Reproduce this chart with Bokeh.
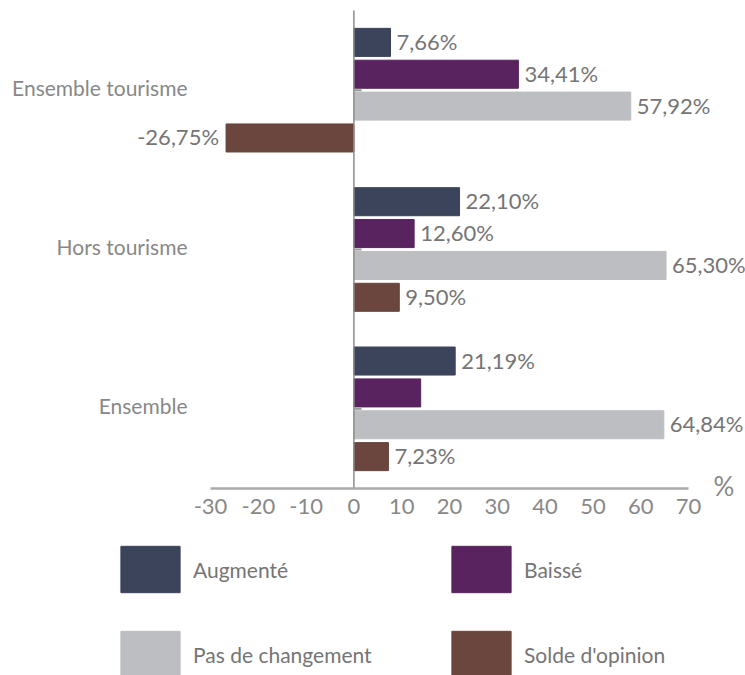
from bokeh.plotting import figure
from bokeh.models import (ColumnDataSource, Range1d, Label, LabelSet, Legend,
                          LegendItem, FixedTicker, PrintfTickFormatter)
from bokeh.transform import dodge
from bokeh.core.properties import value
from bokeh.embed import file_html
from bokeh.resources import INLINE

# ---- data ----
categories = ["Ensemble tourisme", "Hors tourisme", "Ensemble"]
series = ["Augmenté", "Baissé", "Pas de changement", "Solde d'opinion"]
augmente = [7.66, 22.10, 21.19]
baisse = [34.41, 12.60, 13.97]
pas_de_changement = [57.92, 65.30, 64.84]
solde_opinion = [-26.75, 9.50, 7.23]
label_shown = {
    "Augmenté": [True, True, True],
    "Baissé": [True, True, False],
    "Pas de changement": [True, True, True],
    "Solde d'opinion": [True, True, True],
}
colors = ["#3c445c", "#58235f", "#bdbec2", "#6a463e"]
x_ticks = [-30, -20, -10, 0, 10, 20, 30, 40, 50, 60, 70]
x_axis_bounds = (-30, 70)

FONT = "Lato"
TEXT = "#757575"
AXIS_TEXT = "#888888"

# ---- layout of the single frame (whole canvas) ----
W, H = 745, 675
PX_PER_UNIT = 478 / 100          # -30..70 over 478 px
x_start = x_axis_bounds[0] - 210 / PX_PER_UNIT
x_end = x_axis_bounds[1] + (W - 688) / PX_PER_UNIT
n = len(categories)
cat_pos = list(range(n - 1, -1, -1))   # top category highest
CAT_PX = 159.33
y_top = (n - 0.5) + 10 / CAT_PX
y_bottom = -0.5 - (H - 488) / CAT_PX

p = figure(width=W, height=H,
           x_range=Range1d(x_start, x_end),
           y_range=Range1d(y_bottom, y_top),
           output_backend="svg", toolbar_location=None,
           min_border_left=0, min_border_right=0,
           min_border_top=0, min_border_bottom=0)

src = ColumnDataSource(dict(cat=categories, pos=cat_pos, a=augmente, b=baisse,
                            c=pas_de_changement, d=solde_opinion))
cols = ["a", "b", "c", "d"]
values = [augmente, baisse, pas_de_changement, solde_opinion]
offsets = [0.3, 0.1, -0.1, -0.3]
bar_h = 0.176


def fmt(v):
    return f"{v:.2f}".replace(".", ",") + "%"


renderers = {}
for s, col, vals, off, color in zip(series, cols, values, offsets, colors):
    r = p.hbar(y=dodge("pos", off), left=0, right=col,
               height=bar_h, color=color, source=src)
    renderers[s] = r
    shown = label_shown[s]
    pos = dict(pos=[], val=[], txt=[])
    neg = dict(pos=[], val=[], txt=[])
    for cp, v, sh in zip(cat_pos, vals, shown):
        if not sh:
            continue
        d = pos if v >= 0 else neg
        d["pos"].append(cp)
        d["val"].append(v)
        d["txt"].append(fmt(v))
    for d, xo, al in ((pos, 6, "left"), (neg, -7, "right")):
        if not d["pos"]:
            continue
        p.add_layout(LabelSet(x="val", y=dodge("pos", off), text="txt",
                              source=ColumnDataSource(d), x_offset=xo,
                              y_offset=1,
                              text_align=al, text_baseline="middle",
                              text_font=value(FONT), text_font_size="22px",
                              text_color=TEXT))

# category labels (left of the axis start)
p.add_layout(LabelSet(x=x_axis_bounds[0], y="pos", text="cat", source=src,
                      x_offset=-23, y_offset=3, text_align="right",
                      text_baseline="middle",
                      text_font=value(FONT), text_font_size="21px",
                      text_color=AXIS_TEXT))

# zero line over the category area and small marks at category centres
p.segment(x0=0, x1=0, y0=-0.5, y1=n - 0.5, line_color="#8c8c8c",
          line_width=1.5)
p.segment(x0=0, x1=1.6, y0="pos", y1="pos", source=src,
          line_color="#9a9a9a", line_width=2)

# x axis fixed at the bottom of the category area
p.xaxis.fixed_location = -0.5
p.xaxis.ticker = FixedTicker(ticks=x_ticks)
p.xaxis.formatter = PrintfTickFormatter(format="%d")
p.xaxis.bounds = x_axis_bounds
p.xaxis.major_tick_line_color = None
p.xaxis.minor_tick_line_color = None
p.xaxis.axis_line_color = "#a9a9a9"
p.xaxis.axis_line_width = 2.5
p.xaxis.major_label_standoff = 5
p.xaxis.major_label_text_font = FONT
p.xaxis.major_label_text_font_size = "22px"
p.xaxis.major_label_text_color = AXIS_TEXT
p.yaxis.visible = False

p.xgrid.visible = False
p.ygrid.visible = False
p.outline_line_color = None

p.add_layout(Label(x=x_axis_bounds[1], y=-0.5, x_offset=25, y_offset=2,
                   text="%", text_baseline="middle", text_font=FONT,
                   text_font_size="26px", text_color=AXIS_TEXT))

# legend: 2 x 2 grid (filled column by column)
legend_order = ["Augmenté", "Pas de changement", "Baissé", "Solde d'opinion"]
items = [LegendItem(label=s, renderers=[renderers[s]]) for s in legend_order]
legend = Legend(items=items, ncols=2, location=(113, -8),
                glyph_width=74, glyph_height=58, label_standoff=6,
                spacing=27, label_width=224, padding=0, margin=0,
                border_line_color=None, background_fill_alpha=0,
                label_text_font=FONT, label_text_font_size="21px",
                label_text_color=TEXT)
p.add_layout(legend)

open("out.html", "w").write(file_html(p, INLINE))
